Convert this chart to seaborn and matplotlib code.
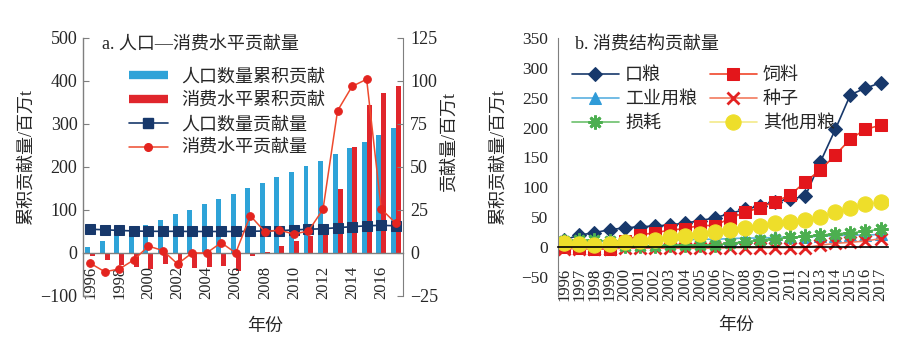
import matplotlib
matplotlib.use("Agg")
import matplotlib.pyplot as plt
from matplotlib.lines import Line2D
import seaborn as sns
import pandas as pd

# ---------------- data ----------------
years = list(range(1996, 2018))

# chart a: cumulative contributions (left axis, 百万t)
pop_cum = [14, 28, 40, 52, 65, 77, 90, 101, 114, 126, 138, 150, 163, 176, 188, 202, 215, 230, 245, 259, 274, 291]
cons_cum = [-6, -16, -29, -32, -38, -26, -35, -34, -33, -30, -42, -8, 2, 16, 28, 40, 65, 149, 246, 345, 371, 388]
# chart a: yearly contributions (right axis, 百万t)
pop_contrib = [13.8, 13.5, 13.1, 12.8, 12.6, 12.6, 12.6, 12.5, 12.5, 12.5, 12.5, 12.6, 12.8, 13.0, 13.4, 13.8,
               14.1, 14.7, 15.3, 15.8, 16.1, 15.8]
cons_contrib = [-6.0, -10.9, -9.3, -4.0, 4.0, 1.4, -6.4, 0.0, 0.0, 6.0, 0.0, 21.7, 12.4, 13.3, 11.0, 12.8,
                25.4, 82.7, 96.9, 101.0, 25.6, 17.3]

# chart b: consumption-structure contributions
kouliang = [12, 20, 24, 29, 32, 34, 35, 37, 40, 44, 49, 56, 63, 69, 76, 80, 85, 142, 197, 255, 266, 275]
siliao = [0, -2, -4, -3, 10, 20, 24, 28, 31, 36, 36, 48, 58, 66, 76, 87, 109, 129, 154, 181, 197, 204]
gongye = [8, 9, 9, 10, 10, 11, 11, 12, 12, 13, 13, 14, 15, 15, 16, 17, 17, 18, 19, 20, 20, 21]
zhongzi = [-3, -3, -3, -3, -2, -2, -2, -2, -2, -2, -2, -1, -1, -1, -1, -1, -1, 3, 6, 8, 10, 14]
sunhao = [10, 11, 11, 10, 2, 2, 2, 3, 3, 3, 4, 6, 9, 12, 14, 16, 18, 20, 22, 24, 26, 30]
qita = [6, 5, 3, 5, 8, 10, 12, 16, 19, 22, 25, 28, 32, 36, 40, 42, 45, 51, 59, 66, 72, 75]

bar_labels = ["人口数量累积贡献", "消费水平累积贡献"]
line_labels_a = ["人口数量贡献量", "消费水平贡献量"]
labels_b = ["口粮", "饲料", "工业用粮", "种子", "损耗", "其他用粮"]

# ---------------- style ----------------
sns.set_style("white")
plt.rcParams["font.family"] = ["Liberation Serif", "Noto Sans CJK SC"]
plt.rcParams["axes.unicode_minus"] = True

SPINE = "#7f7f7f"
C_BLUE_BAR = "#2ea3d8"
C_RED_BAR = "#e0262c"
C_NAVY = "#17386b"
C_RED = "#e3241f"

fig = plt.figure(figsize=(8.99, 3.38), dpi=100)
ax = fig.add_axes([0.0923, 0.1243, 0.356, 0.7633])
axb = fig.add_axes([0.6207, 0.1243, 0.3671, 0.7633])

# ================= chart a =================
df_bar = pd.DataFrame({
    "year": years * 2,
    "value": pop_cum + cons_cum,
    "series": [bar_labels[0]] * len(years) + [bar_labels[1]] * len(years),
})
sns.barplot(data=df_bar, x="year", y="value", hue="series", hue_order=bar_labels,
            palette=[C_BLUE_BAR, C_RED_BAR], native_scale=True, width=0.68,
            gap=0, saturation=1, legend=False, ax=ax, linewidth=0)
ax.set_axisbelow(False)

ax2 = ax.twinx()
sns.lineplot(x=years, y=pop_contrib, ax=ax2, color=C_NAVY, marker="s", markersize=7.5,
             markeredgecolor=C_NAVY, markerfacecolor=C_NAVY, linewidth=1.2)
sns.lineplot(x=years, y=cons_contrib, ax=ax2, color="#ee4a2e", marker="o", markersize=5.5,
             markeredgecolor=C_RED, markerfacecolor=C_RED, linewidth=1.1)

ax.set_ylim(-100, 500)
ax.set_xlim(1995.5, 2017.5)
ax.set_yticks(range(-100, 501, 100))
ax.set_xticks(range(1996, 2017, 2))
ax.set_xticklabels([str(y) for y in range(1996, 2017, 2)])
ax.spines["bottom"].set_position(("data", 0))
for s in ["top", "right"]:
    ax.spines[s].set_visible(False)
for s in ["left", "bottom"]:
    ax.spines[s].set_color(SPINE)
    ax.spines[s].set_linewidth(1.0)
ax.tick_params(axis="y", direction="in", length=4, color=SPINE, labelsize=13, pad=4)
ax.tick_params(axis="x", direction="in", length=0, labelsize=12, pad=9.5, labelrotation=90)
ax.set_xlabel("年份", fontsize=13)
ax.xaxis.set_label_coords(0.57, -0.085)
ax.set_ylabel("累积贡献量/百万t", fontsize=13)
ax.yaxis.set_label_coords(-0.15, 0.54)

ax2.set_ylim(-25, 125)
ax2.set_yticks(range(-25, 126, 25))
ax2.set_xlim(1995.5, 2017.5)
for s in ["top", "left", "bottom"]:
    ax2.spines[s].set_visible(False)
ax2.spines["right"].set_color(SPINE)
ax2.tick_params(axis="y", direction="in", length=4, color=SPINE, labelsize=13, pad=5)
ax2.set_ylabel("贡献量/百万t", fontsize=13)
ax2.yaxis.set_label_coords(1.118, 0.60)

ax.text(0.059, 0.973, "a. 人口—消费水平贡献量", transform=ax.transAxes,
        ha="left", va="center", fontsize=13)

handles_a = [
    Line2D([], [], color=C_BLUE_BAR, lw=6, solid_capstyle="butt"),
    Line2D([], [], color=C_RED_BAR, lw=6, solid_capstyle="butt"),
    Line2D([], [], color=C_NAVY, lw=1.2, marker="s", markersize=7.5),
    Line2D([], [], color="#ee4a2e", lw=1.1, marker="o", markersize=5.5,
           markerfacecolor=C_RED, markeredgecolor=C_RED),
]
ax2.legend(handles_a, bar_labels + line_labels_a, loc="upper left",
           bbox_to_anchor=(0.12, 0.91), frameon=False, fontsize=13,
           handlelength=2.2, handletextpad=0.7, labelspacing=0.38, borderaxespad=0)

# ================= chart b =================
series_b = [kouliang, siliao, gongye, zhongzi, sunhao, qita]
line_cols = ["#17386b", "#f0452a", "#5ab0e0", "#f27a5e", "#6cc06c", "#f3ea8a"]
mark_cols = ["#17386b", "#e3161b", "#2f9bd8", "#e32222", "#4caf50", "#eede2a"]
markers = ["D", "s", "^", "x", (8, 2, 0), "o"]
msizes = [7.5, 9, 8, 8, 10, 11]

for vals, lab, lc, mc, mk, ms in zip(series_b, labels_b, line_cols, mark_cols, markers, msizes):
    kw = dict(markerfacecolor=mc, markeredgecolor=mc)
    mew = 2.0 if mk in ("x", (8, 2, 0)) else 0.75
    sns.lineplot(x=years, y=vals, ax=axb, color=lc, marker=mk, markersize=ms,
                 markeredgewidth=mew, linewidth=1.2, label=lab, legend=False, **kw)

axb.set_ylim(-82, 350)
axb.set_yticks(range(-50, 351, 50))
axb.set_xlim(1995.58, 2017.5)
axb.set_xticks(years)
axb.set_xticklabels([str(y) for y in years])
axb.spines["bottom"].set_position(("data", 0))
for s in ["top", "right"]:
    axb.spines[s].set_visible(False)
axb.spines["left"].set_color(SPINE)
axb.spines["bottom"].set_color("black")
axb.spines["bottom"].set_linewidth(1.2)
axb.tick_params(axis="y", direction="in", length=4, color=SPINE, labelsize=12.5, pad=7)
axb.tick_params(axis="x", direction="in", length=3, color="black", labelsize=12, pad=15,
                labelrotation=90)
axb.set_xlabel("年份", fontsize=13)
axb.xaxis.set_label_coords(0.54, -0.082)
axb.set_ylabel("累积贡献量/百万t", fontsize=13)
axb.yaxis.set_label_coords(-0.155, 0.54)

axb.text(0.05, 0.973, "b. 消费结构贡献量", transform=axb.transAxes,
         ha="left", va="center", fontsize=13)
h, l = axb.get_legend_handles_labels()
order = [0, 2, 4, 1, 3, 5]
axb.legend([h[i] for i in order], [l[i] for i in order], ncol=2, loc="upper left",
           bbox_to_anchor=(0.02, 0.915), frameon=False,
           fontsize=13, handlelength=2.6, handletextpad=0.35, labelspacing=0.38,
           columnspacing=0.7, borderaxespad=0)

fig.savefig("out.png", dpi=100)
